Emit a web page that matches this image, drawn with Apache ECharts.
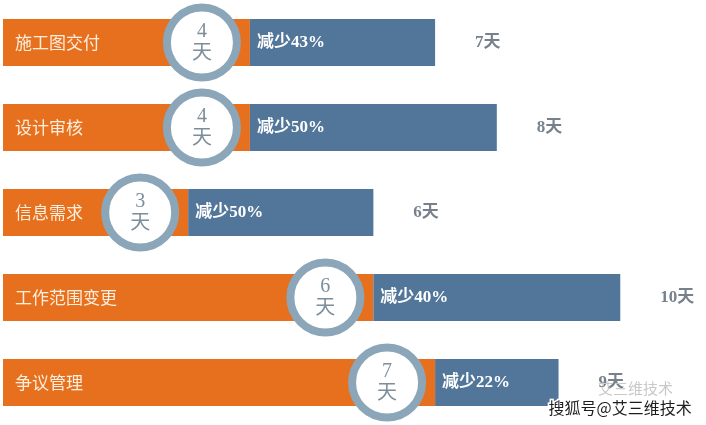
<!DOCTYPE html>
<html><head><meta charset="utf-8">
<script src="https://cdn.jsdelivr.net/npm/echarts@6/dist/echarts.min.js"></script>
<style>html,body{margin:0;padding:0;background:#fff}#c{width:706px;height:425px}</style>
</head><body><div id="c"></div>
<script>
var categories = ['施工图交付', '设计审核', '信息需求', '工作范围变更', '争议管理'];
var newDays = [4, 4, 3, 6, 7];
var oldDays = [7, 8, 6, 10, 9];
var reductionPct = [43, 50, 50, 40, 22];

var remainDays = oldDays.map(function (v, i) { return v - newDays[i]; });
var cjk = '"Noto Sans CJK SC", sans-serif';
var serif = '"Liberation Serif", "DejaVu Serif", "Noto Sans CJK SC", serif';

var chart = echarts.init(document.getElementById('c'), null, {renderer: 'canvas'});
chart.setOption({
  animation: false,
  backgroundColor: '#ffffff',
  grid: {left: 3, right: 24, top: -3, bottom: -2},
  xAxis: {type: 'value', min: 0, max: 11, show: false},
  yAxis: {type: 'category', data: categories, inverse: true, show: false},
  series: [
    {
      type: 'bar', stack: 't', data: newDays, barWidth: 47,
      itemStyle: {color: '#E6701E'},
      label: {
        show: true, position: 'insideLeft', distance: 12,
        formatter: function (p) { return categories[p.dataIndex]; },
        color: '#fdeedd', fontSize: 17, fontFamily: cjk
      },
      z: 2
    },
    {
      type: 'bar', stack: 't', data: remainDays, barWidth: 47,
      itemStyle: {color: '#51769A'},
      label: {
        show: true, position: 'insideLeft', distance: 7,
        formatter: function (p) { return '减少' + reductionPct[p.dataIndex] + '%'; },
        color: '#ffffff', fontSize: 17, fontWeight: 'bold', fontFamily: serif
      },
      z: 2
    },
    {
      type: 'scatter', data: newDays.map(function (v, i) { return [v, categories[i]]; }),
      symbol: 'circle', symbolSize: 70, symbolOffset: [-48, 0],
      itemStyle: {color: '#ffffff', borderColor: '#8CA6B9', borderWidth: 8, opacity: 1},
      label: {
        show: true, position: 'inside',
        formatter: function (p) { return newDays[p.dataIndex] + '\n天'; },
        color: '#7d8d99', fontSize: 20, lineHeight: 22, fontFamily: serif, align: 'center'
      },
      z: 5
    },
    {
      type: 'scatter', data: oldDays.map(function (v, i) { return [v, categories[i]]; }),
      symbolSize: 0, silent: true,
      label: {
        show: true, position: 'right', distance: 40,
        formatter: function (p) { return oldDays[p.dataIndex] + '天'; },
        color: '#55626e', fontSize: 17, fontWeight: 'bold', fontFamily: serif
      },
      z: 3
    }
  ],
  graphic: [
    {type: 'text', left: 598, top: 381, z: 10,
      style: {text: '艾三维技术', fill: '#c9c9c9', font: '15px "Noto Sans CJK SC"'}},
    {type: 'text', left: 547, top: 398, z: 11,
      style: {text: '搜狐号@艾三维技术', fill: '#1e1e1e', stroke: '#ffffff', lineWidth: 3, font: '16px "Noto Sans CJK SC"'}}
  ]
});
</script></body></html>
